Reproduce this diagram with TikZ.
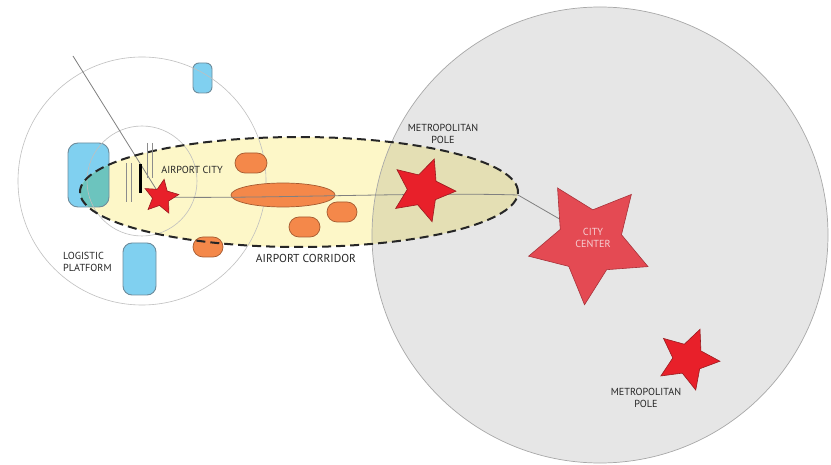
\documentclass[tikz,border=0pt]{standalone}
\usepackage{fontspec}
\setmainfont{PT Sans}
\usetikzlibrary{shapes.geometric}
\pgfdeclarelayer{back}
\pgfdeclarelayer{mid}
\pgfsetlayers{back,mid,main}
\definecolor{cgray}{HTML}{E6E6E6}
\definecolor{cgrayline}{HTML}{A8A8A8}
\definecolor{cyel}{HTML}{FDF7C8}
\definecolor{ckhaki}{HTML}{E4DFB4}
\definecolor{cblue}{HTML}{80D0F0}
\definecolor{cblueline}{HTML}{6E8C9C}
\definecolor{cteal}{HTML}{6CC4BE}
\definecolor{corange}{HTML}{F4884A}
\definecolor{corangeline}{HTML}{A55A30}
\definecolor{cred}{HTML}{E8202A}
\definecolor{credline}{HTML}{9A1A1E}
\definecolor{cpink}{HTML}{E44A53}
\definecolor{cpinkline}{HTML}{A8323A}
\definecolor{ctext}{HTML}{262626}
\definecolor{cpinktext}{HTML}{F6D0D3}
\tikzset{
  thinring/.style={draw=black!25, line width=0.6pt},
  bluebox/.style={fill=cblue},
  blueedge/.style={draw=cblueline, line width=0.9pt},
  pill/.style={fill=corange, draw=corangeline, line width=0.7pt},
  conn/.style={draw=black!50, line width=0.8pt},
  redstar/.style={shape=star, star points=5, star point ratio=2.1, fill=cred, draw=credline, line width=0.6pt, inner sep=0pt},
  pinkstar/.style={shape=star, star points=5, star point ratio=1.95, fill=cpink, draw=cpinkline, line width=0.6pt, inner sep=0pt},
  lbl/.style={font=\fontsize{10.2}{12.5}\selectfont, text=ctext, align=center, inner sep=0pt},
  runway/.style={draw=black!45, line width=0.7pt}
}
\begin{document}
\begin{tikzpicture}[x=1pt,y=-1pt]
\useasboundingbox (0,0) rectangle (831,465);

% stars (main layer, on top)
\node[redstar, minimum size=36pt, rotate=-10] (ac) at (161,197) {};
\node[redstar, minimum size=66pt, rotate=-20] (mp1) at (423,190) {};
\node[pinkstar, minimum size=126pt, rotate=31] (cc) at (590,242) {};
\node[redstar, minimum size=64pt, rotate=-22] (mp2) at (688,359) {};

\begin{pgfonlayer}{back}
\fill[white] (0,0) rectangle (831,465);
% big metropolitan circle
\fill[cgray] (600,235) circle[radius=228pt];
% blue blocks (fill)
\fill[bluebox, rounded corners=6pt] (193,63) rectangle (212,93);
\fill[bluebox, rounded corners=10pt] (68,143) rectangle (109,207);
\fill[bluebox, rounded corners=9pt] (123,243) rectangle (156,295);
% corridor fill
\fill[cyel] (299,192) ellipse[x radius=219pt, y radius=55pt];
\begin{scope}
  \clip (600,235) circle[radius=228pt];
  \fill[ckhaki] (299,192) ellipse[x radius=219pt, y radius=55pt];
\end{scope}
\begin{scope}
  \clip[rounded corners=10pt] (68,143) rectangle (109,207);
  \fill[cteal] (299,192) ellipse[x radius=219pt, y radius=55pt];
\end{scope}
% outlines
\draw[draw=cgrayline, line width=0.7pt] (600,235) circle[radius=228pt];
\draw[blueedge, rounded corners=6pt] (193,63) rectangle (212,93);
\draw[blueedge, rounded corners=10pt] (68,143) rectangle (109,207);
\draw[blueedge, rounded corners=9pt] (123,243) rectangle (156,295);
% airport rings
\draw[thinring] (142,181) circle[radius=124pt];
\draw[thinring] (142,181) circle[radius=55pt];
% orange blocks
\draw[pill, rounded corners=10pt] (235,153) rectangle (267,173);
\draw[pill, rounded corners=10pt] (327,202) rectangle (357,222);
\draw[pill, rounded corners=10pt] (289,217) rectangle (320,237);
\draw[pill, rounded corners=10pt] (193,237) rectangle (223,257);
\draw[pill] (283,195) ellipse[x radius=52pt, y radius=12pt];
\end{pgfonlayer}

% connectors (below the stars)
\coordinate (lt) at (73,56);
\coordinate (corrE) at (518,195);
\coordinate (ccEnd) at (582,232);
\begin{pgfonlayer}{mid}
\draw[conn] (lt) -- (ac.center);
\draw[conn] (ac.center) .. controls (260,199) and (420,192) .. (corrE) -- (ccEnd);
% corridor dashed border
\draw[black!85, line width=2pt, dash pattern=on 9pt off 5pt] (299,192) ellipse[x radius=219pt, y radius=55pt];
% runways
\draw[runway] (126,163) -- (126,202);
\draw[runway] (131,163) -- (131,202);
\draw[runway] (147,143) -- (147,178);
\draw[runway] (152,143) -- (152,178);
\draw[black, line width=3pt] (140,164) -- (140,193);
\end{pgfonlayer}

% labels
\node[lbl] (tac) at (192,170) {AIRPORT CITY};
\node[lbl, align=left, anchor=west] (tlp) at (63,262) {LOGISTIC\\PLATFORM};
\node[lbl, font=\fontsize{11.5}{13}\selectfont] (tcorr) at (306,258) {AIRPORT CORRIDOR};
\node[lbl] (tmp1) at (443,134) {METROPOLITAN\\POLE};
\node[lbl] (tmp2) at (646,398) {METROPOLITAN\\POLE};
\node[lbl, text=cpinktext] (tcc) at (593,238) {CITY\\CENTER};
\end{tikzpicture}
\end{document}
